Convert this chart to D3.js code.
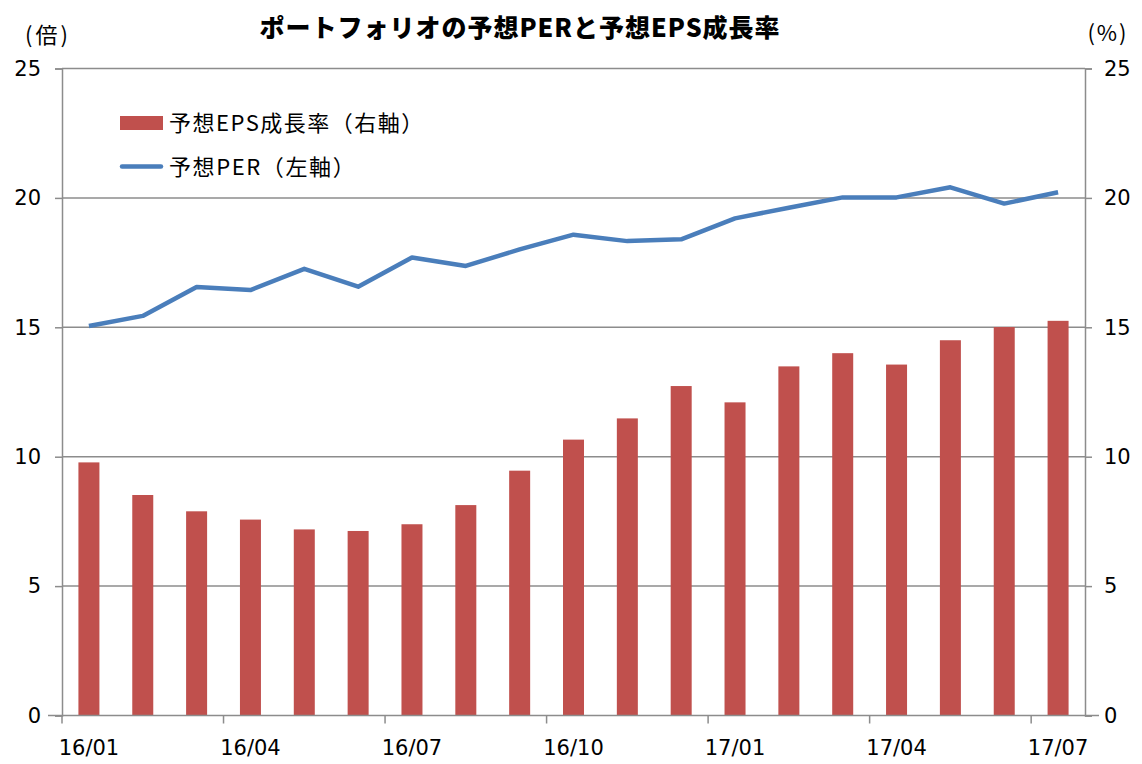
<!DOCTYPE html>
<html><head><meta charset="utf-8">
<script src="https://cdn.jsdelivr.net/npm/d3@7"></script>
<style>
body{margin:0;background:#fff;}
svg{display:block;}
text{font-family:"DejaVu Sans","Noto Sans CJK JP",sans-serif;fill:#000;}
.jp{font-family:"Noto Sans CJK JP",sans-serif;}
</style></head>
<body><svg id="c" width="1142" height="764"></svg>
<script>
const months = ["16/01","16/02","16/03","16/04","16/05","16/06","16/07","16/08","16/09","16/10","16/11","16/12","17/01","17/02","17/03","17/04","17/05","17/06","17/07"];
const epsGrowth = [9.78,8.52,7.89,7.57,7.19,7.13,7.39,8.13,9.46,10.66,11.48,12.73,12.10,13.49,14.00,13.56,14.50,15.01,15.25];
const per = [15.05,15.44,16.56,16.44,17.26,16.57,17.70,17.37,18.01,18.58,18.33,18.40,19.21,19.62,20.02,20.02,20.41,19.78,20.22];
const yTicks = [0,5,10,15,20,25];
const xLabelMonths = ["16/01","16/04","16/07","16/10","17/01","17/04","17/07"];
const title = "ポートフォリオの予想PERと予想EPS成長率";
const legendLabels = ["予想EPS成長率（右軸）","予想PER（左軸）"];

const svg = d3.select("#c");
const L = 62, R = 1085, T = 68.5, B = 715.5;
const grid = "#8c8c8c";
const x = d3.scaleBand().domain(months).range([L,R]).paddingInner(0).paddingOuter(0);
const yL = d3.scaleLinear().domain([0,25]).range([B,T]);
const yR = d3.scaleLinear().domain([0,25]).range([B,T]);

// gridlines
svg.append("g").selectAll("line").data(yTicks.filter(d=>d>0)).join("line")
  .attr("x1",L).attr("x2",R).attr("y1",d=>yL(d)).attr("y2",d=>yL(d))
  .attr("stroke",grid).attr("stroke-width",1.5);

// bars
const bw = x.bandwidth()*0.39;
svg.append("g").selectAll("rect").data(epsGrowth).join("rect")
  .attr("x",(d,i)=>x(months[i])+x.bandwidth()/2-bw/2)
  .attr("width",bw)
  .attr("y",d=>yR(d)).attr("height",d=>B-yR(d))
  .attr("fill","#C0504D");

// axes
const axL = svg.append("g").attr("transform",`translate(${L},0)`)
  .call(d3.axisLeft(yL).tickValues(yTicks).tickSize(7).tickPadding(14).tickFormat(d3.format("d")));
const axR = svg.append("g").attr("transform",`translate(${R},0)`)
  .call(d3.axisRight(yR).tickValues(yTicks).tickSize(7).tickPadding(12).tickFormat(d3.format("d")));
const tickIdx = [0,3,6,9,12,15,18];
const axB = svg.append("g").attr("transform",`translate(0,${B})`)
  .call(d3.axisBottom(x).tickValues(xLabelMonths).tickSize(0).tickPadding(24));
// bottom tick marks at band boundaries
svg.append("g").selectAll("line").data(tickIdx).join("line")
  .attr("x1",i=>x(months[i])).attr("x2",i=>x(months[i]))
  .attr("y1",B).attr("y2",B+8).attr("stroke",grid).attr("stroke-width",1.5);
[axL,axR,axB].forEach(a=>{
  a.selectAll("path").attr("stroke",grid).attr("stroke-width",1.5);
  a.selectAll("line").attr("stroke",grid).attr("stroke-width",1.5);
  a.selectAll("text").attr("font-size",21).attr("font-family","DejaVu Sans");
});
axB.select("path").attr("d",`M${L-14},0H${R+14}`);
axB.selectAll("text").attr("dy","0.75em");

// line
const line = d3.line().x((d,i)=>x(months[i])+x.bandwidth()/2).y(d=>yL(d));
svg.append("path").datum(per).attr("d",line).attr("fill","none")
  .attr("stroke","#4A7EBB").attr("stroke-width",4.5).attr("stroke-linejoin","round");

// title and units
svg.append("text").attr("class","jp").attr("x",520).attr("y",37).attr("text-anchor","middle")
  .attr("font-size",25).attr("letter-spacing",1).attr("font-weight",900).text(title);
svg.append("text").attr("class","jp").attr("x",48).attr("y",43).attr("text-anchor","middle")
  .attr("font-size",22).attr("letter-spacing",3).text("(倍)");
svg.append("text").attr("class","jp").attr("x",1108).attr("y",41).attr("text-anchor","middle")
  .attr("font-size",22).attr("letter-spacing",2).text("(%)");

// legend
const lg = svg.append("g");
lg.append("rect").attr("x",120).attr("y",116).attr("width",43).attr("height",14).attr("fill","#C0504D");
lg.append("text").attr("class","jp").attr("x",169).attr("y",123).attr("dy","0.36em").attr("font-size",22).attr("letter-spacing",1.5).text(legendLabels[0]);
lg.append("line").attr("x1",122).attr("x2",161).attr("y1",166.5).attr("y2",166.5).attr("stroke","#4A7EBB").attr("stroke-width",4.5).attr("stroke-linecap","round");
lg.append("text").attr("class","jp").attr("x",169).attr("y",167).attr("dy","0.36em").attr("font-size",22).attr("letter-spacing",1.6).text(legendLabels[1]);
</script></body></html>
